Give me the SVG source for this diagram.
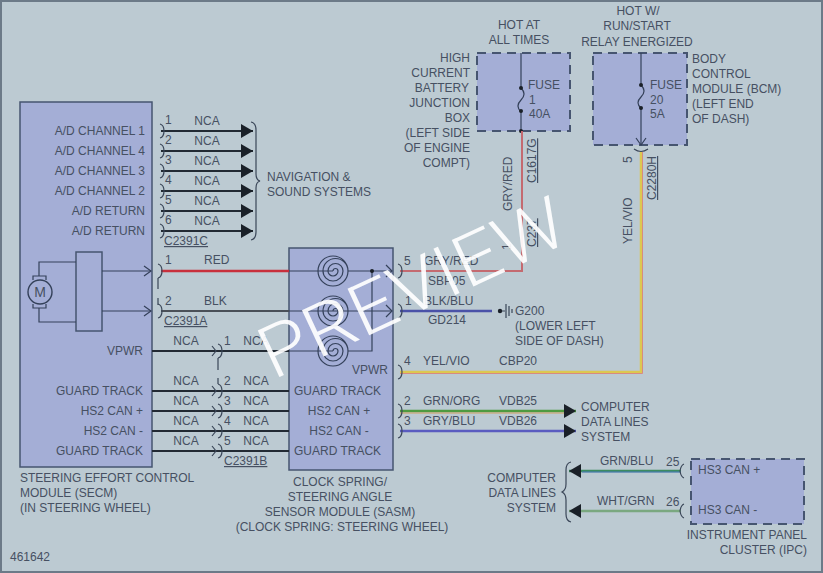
<svg xmlns="http://www.w3.org/2000/svg" width="823" height="573" viewBox="0 0 823 573">
<style>
text{font-family:"Liberation Sans",Arial,sans-serif;font-size:12px;fill:#465062}
.e{text-anchor:end}.m{text-anchor:middle}
.u{text-decoration:underline}
.box{fill:#a4aed6;stroke:#465570;stroke-width:1.5}
.dash{fill:#a4aed6;stroke:#465570;stroke-width:2;stroke-dasharray:9 6}
.thin{fill:none;stroke:#34415a;stroke-width:1.2}
.conn{fill:none;stroke:#3a4658;stroke-width:1.2}
.k{fill:none;stroke:#222a33;stroke-width:2.2}
text.pv{font-family:Roboto,"Liberation Sans",sans-serif;font-weight:300;font-size:72px;fill:#fff;fill-opacity:.92}
</style>
<defs>
<marker id="a" markerUnits="userSpaceOnUse" markerWidth="13" markerHeight="14" refX="12" refY="7" orient="auto"><path d="M0 0L12 7L0 14Z" fill="#1a2028"/></marker>
<marker id="o" markerUnits="userSpaceOnUse" markerWidth="10" markerHeight="12" refX="8" refY="6" orient="auto"><path d="M1 1L8 6L1 11" fill="none" stroke="#34415a" stroke-width="1.2"/></marker>
<path id="c" d="M0 -7Q4 -6 4 0Q4 6 0 7" class="conn"/>
<path id="v" d="M-3 -5L1 0L-3 5" class="conn"/>
<path id="s" d="M0 0A2.500 2.500 0 0 1 5 0A5 5 0 0 1 -5 0A7.500 7.500 0 0 1 10 0A10 10 0 0 1 -10 0A12.500 12.500 0 0 1 15 0A15 15 0 0 1 -15 0A15 15 0 0 1 15 0" class="thin"/>
</defs>
<rect x="1" y="1" width="821" height="571" fill="#bccad2" stroke="#6c7a88" stroke-width="2"/>

<g id="secm">
<rect class="box" x="20" y="102" width="132" height="365"/>
<text class="e" x="145" y="135">A/D CHANNEL 1</text>
<text class="e" x="145" y="155">A/D CHANNEL 4</text>
<text class="e" x="145" y="175">A/D CHANNEL 3</text>
<text class="e" x="145" y="195">A/D CHANNEL 2</text>
<text class="e" x="145" y="215">A/D RETURN</text>
<text class="e" x="145" y="235">A/D RETURN</text>
<text class="e" x="143" y="355">VPWR</text>
<text class="e" x="143" y="395">GUARD TRACK</text>
<text class="e" x="143" y="415">HS2 CAN +</text>
<text class="e" x="143" y="435">HS2 CAN -</text>
<text class="e" x="143" y="455">GUARD TRACK</text>
<rect class="box" x="76" y="252" width="26" height="79"/>
<circle cx="40" cy="292" r="12" fill="#a4aed6" stroke="#34415a" stroke-width="1.4"/>
<path class="thin" d="M33 280V276H46V280M33 304V308H46V304M39 276V262H76M39 308V322H76"/>
<text class="m" x="40" y="297" style="font-size:14px">M</text>
<path class="thin" d="M102 271H151" marker-end="url(#o)"/>
<path class="thin" d="M102 311H151" marker-end="url(#o)"/>
<text x="20" y="482">STEERING EFFORT CONTROL</text>
<text x="20" y="497">MODULE (SECM)</text>
<text x="20" y="512">(IN STEERING WHEEL)</text>
</g>

<g id="sasm">
<rect class="box" x="289" y="248" width="104" height="222"/>
<use href="#s" x="333" y="271"/><use href="#s" x="333" y="311"/><use href="#s" x="333" y="351"/>
<path class="thin" d="M289 271H333M348 271H392M289 311H392M289 351H333M348 351H372V271"/>
<path class="thin" d="M386 265L392 271L386 277M386 305L392 311L386 317"/>
<circle cx="372" cy="271" r="2" fill="#1a2028"/>
<text class="e" x="388" y="374">VPWR</text>
<text x="294" y="395">GUARD TRACK</text>
<text class="m" x="339" y="415">HS2 CAN +</text>
<text class="m" x="339" y="435">HS2 CAN -</text>
<text x="294" y="455">GUARD TRACK</text>
<text class="m" x="340" y="486">CLOCK SPRING/</text>
<text class="m" x="340" y="501">STEERING ANGLE</text>
<text class="m" x="340" y="516">SENSOR MODULE (SASM)</text>
<text class="m" x="342" y="531">(CLOCK SPRING: STEERING WHEEL)</text>
</g>

<g id="hcjb">
<rect class="dash" x="477" y="53" width="93" height="78"/>
<path class="thin" d="M521 53V88Q527 94 521 100Q515 106 521 112V131"/>
<circle cx="521" cy="88" r="2" fill="#1a2028"/><circle cx="521" cy="111" r="2" fill="#1a2028"/><circle cx="521" cy="131" r="2" fill="#1a2028"/>
<text x="528" y="89">FUSE</text><text x="529" y="104">1</text><text x="529" y="118">40A</text>
<text class="m" x="519" y="29">HOT AT</text><text class="m" x="519" y="44">ALL TIMES</text>
<text class="e" x="470" y="62">HIGH</text><text class="e" x="470" y="77">CURRENT</text><text class="e" x="469" y="92">BATTERY</text><text class="e" x="470" y="107">JUNCTION</text><text class="e" x="470" y="122">BOX</text><text class="e" x="470" y="137">(LEFT SIDE</text><text class="e" x="470" y="152">OF ENGINE</text><text class="e" x="470" y="167">COMPT)</text>
</g>

<g id="bcm">
<rect class="dash" x="593" y="53" width="94" height="92"/>
<path class="thin" d="M641 53V85Q647 91 641 97Q635 103 641 108V145" marker-end="url(#o)"/>
<circle cx="641" cy="85" r="2" fill="#1a2028"/><circle cx="641" cy="108" r="2" fill="#1a2028"/>
<text x="650" y="89">FUSE</text><text x="650" y="104">20</text><text x="650" y="118">5A</text>
<text class="m" x="638" y="15">HOT W/</text><text class="m" x="637" y="30">RUN/START</text><text class="m" x="637" y="46">RELAY ENERGIZED</text>
<text x="692" y="63">BODY</text><text x="692" y="78">CONTROL</text><text x="692" y="93">MODULE (BCM)</text><text x="692" y="108">(LEFT END</text><text x="692" y="123">OF DASH)</text>
</g>

<g id="ipc">
<rect class="dash" x="691" y="459" width="113" height="65"/>
<text x="698" y="474">HS3 CAN +</text><text x="698" y="514">HS3 CAN -</text>
<text class="e" x="807" y="539">INSTRUMENT PANEL</text><text class="e" x="807" y="554">CLUSTER (IPC)</text>
</g>

<g id="connectors">
<g class="k">
<path d="M161 131H253" marker-end="url(#a)"/><path d="M161 151H253" marker-end="url(#a)"/><path d="M161 171H253" marker-end="url(#a)"/><path d="M161 191H253" marker-end="url(#a)"/><path d="M161 211H253" marker-end="url(#a)"/><path d="M161 231H253" marker-end="url(#a)"/>
<path d="M152 351H289M152 391H289M152 411H289M152 431H289M152 451H289"/>
</g>
<path d="M161 271H289" stroke="#c8303c" stroke-width="2.5" fill="none"/>
<path d="M161 311H289" stroke="#4a5058" stroke-width="2" fill="none"/>
<path d="M400 271H522V131" stroke="#c46a70" stroke-width="2" fill="none"/>
<path d="M400 311H492" stroke="#4a52a8" stroke-width="2.5" fill="none"/>
<path d="M400 372H641V152" stroke="#dcc850" stroke-width="2.5" fill="none"/>
<path d="M400 373.500H642.500V152" stroke="#d88a80" stroke-width="1" fill="none"/>
<path d="M400 411H576" stroke="#4e9a40" stroke-width="2.5" fill="none" marker-end="url(#a)"/>
<path d="M400 413H564" stroke="#d0a060" stroke-width="1" fill="none"/>
<path d="M400 431H576" stroke="#5a5cc0" stroke-width="2.5" fill="none" marker-end="url(#a)"/>
<path d="M681 471H569" stroke="#3c8c60" stroke-width="2.5" fill="none" marker-end="url(#a)"/>
<path d="M681 472H582" stroke="#4a78c0" stroke-width="1" fill="none"/>
<path d="M681 511H569" stroke="#7aa880" stroke-width="2.5" fill="none" marker-end="url(#a)"/>
<g>
<use href="#c" x="160" y="131"/><use href="#c" x="160" y="151"/><use href="#c" x="160" y="171"/><use href="#c" x="160" y="191"/><use href="#c" x="160" y="211"/><use href="#c" x="160" y="231"/>
<use href="#c" x="158" y="271"/><use href="#c" x="158" y="311"/>
<use href="#v" x="215" y="351"/><use href="#c" x="218" y="351"/><use href="#v" x="215" y="391"/><use href="#c" x="218" y="391"/><use href="#v" x="215" y="411"/><use href="#c" x="218" y="411"/><use href="#v" x="215" y="431"/><use href="#c" x="218" y="431"/><use href="#v" x="215" y="451"/><use href="#c" x="218" y="451"/>
<use href="#c" x="398" y="271"/><use href="#c" x="398" y="311"/><use href="#c" x="398" y="372"/><use href="#c" x="398" y="411"/><use href="#c" x="398" y="431"/>
<path class="conn" d="M684 464Q681 465 680 471Q681 477 684 478M684 504Q681 505 680 511Q681 517 684 518"/>
<path class="conn" d="M634 149Q641 154 648 149M158 278V289M158 298V305M218 358V370M218 378V384"/>
</g>
<path class="conn" d="M251 122Q256 123 256 130V174Q256 180 260 181Q256 182 256 188V232Q256 239 251 240"/>
<path class="conn" d="M571 462Q566 463 566 470V484Q566 490 562 492Q566 494 566 500V514Q566 521 571 522"/>
<circle cx="500" cy="311" r="2.2" fill="#1a2028"/>
<path class="conn" d="M502 311H505M506 304V318M509 306V316M512 309V313"/>
</g>

<g id="labels">
<text x="165" y="124">1</text><text x="165" y="144">2</text><text x="165" y="164">3</text><text x="165" y="184">4</text><text x="165" y="204">5</text><text x="165" y="224">6</text>
<text class="m" x="207" y="125">NCA</text><text class="m" x="207" y="145">NCA</text><text class="m" x="207" y="165">NCA</text><text class="m" x="207" y="185">NCA</text><text class="m" x="207" y="205">NCA</text><text class="m" x="207" y="225">NCA</text>
<text class="u" x="164" y="245">C2391C</text>
<text x="267" y="181">NAVIGATION &amp;</text><text x="267" y="196">SOUND SYSTEMS</text>
<text x="165" y="264">1</text><text x="204" y="264">RED</text><text x="165" y="305">2</text><text x="204" y="305">BLK</text><text class="u" x="164" y="325">C2391A</text>
<text class="m" x="186" y="345">NCA</text><text class="m" x="186" y="385">NCA</text><text class="m" x="186" y="405">NCA</text><text class="m" x="186" y="425">NCA</text><text class="m" x="186" y="445">NCA</text>
<text x="224" y="345">1</text><text x="224" y="385">2</text><text x="224" y="405">3</text><text x="224" y="425">4</text><text x="224" y="445">5</text>
<text class="m" x="256" y="345">NCA</text><text class="m" x="256" y="385">NCA</text><text class="m" x="256" y="405">NCA</text><text class="m" x="256" y="425">NCA</text><text class="m" x="256" y="445">NCA</text>
<text class="u" x="224" y="465">C2391B</text>
<text x="404" y="265">5</text><text x="424" y="265">GRY/RED</text><text x="428" y="285">SBP05</text>
<text x="405" y="305">1</text><text x="424" y="305">BLK/BLU</text><text x="428" y="324">GD214</text>
<text x="404" y="365">4</text><text x="423" y="365">YEL/VIO</text><text x="499" y="365">CBP20</text>
<text x="404" y="405">2</text><text x="423" y="405">GRN/ORG</text><text x="499" y="405">VDB25</text>
<text x="404" y="425">3</text><text x="423" y="425">GRY/BLU</text><text x="499" y="425">VDB26</text>
<text x="515" y="315">G200</text><text x="515" y="330">(LOWER LEFT</text><text x="515" y="345">SIDE OF DASH)</text>
<text x="581" y="411">COMPUTER</text><text x="581" y="426">DATA LINES</text><text x="581" y="441">SYSTEM</text>
<text class="e" x="556" y="482">COMPUTER</text><text class="e" x="556" y="497">DATA LINES</text><text class="e" x="556" y="512">SYSTEM</text>
<text x="600" y="465">GRN/BLU</text><text x="666" y="466">25</text><text x="597" y="505">WHT/GRN</text><text x="666" y="506">26</text>
<text transform="translate(512 211) rotate(-90)">GRY/RED</text>
<text class="u" transform="translate(536 183) rotate(-90)">C1617G</text>
<text transform="translate(511 250) rotate(-90)">1</text>
<text class="u" transform="translate(536 247) rotate(-90)">C237</text>
<text transform="translate(632 163) rotate(-90)">5</text>
<text transform="translate(632 244) rotate(-90)">YEL/VIO</text>
<text class="u" transform="translate(656 200) rotate(-90)">C2280H</text>
<text x="10" y="561">461642</text>
</g>
<text class="pv" transform="translate(273 380) rotate(-25)" textLength="330" lengthAdjust="spacingAndGlyphs">PREVIEW</text>
</svg>
